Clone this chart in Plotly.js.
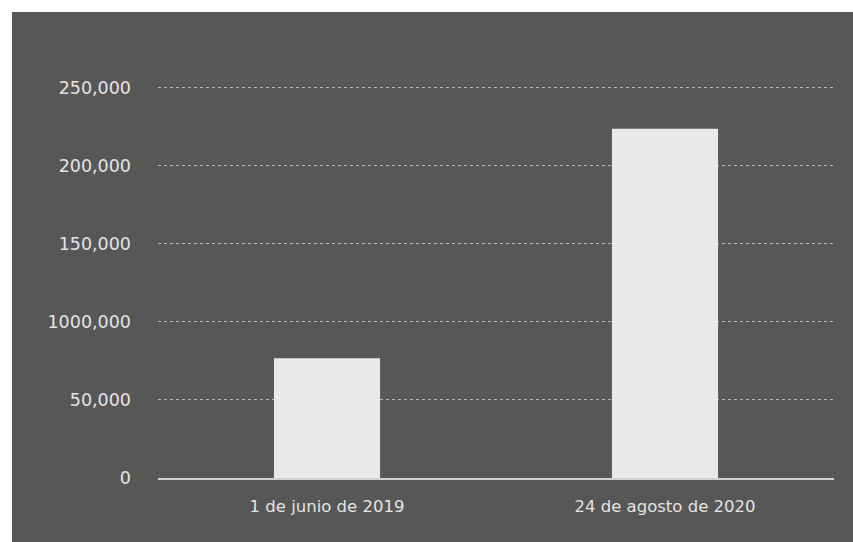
<!DOCTYPE html>
<html>
<head>
<meta charset="utf-8">
<script src="https://cdn.plot.ly/plotly-3.0.1.min.js"></script>
<style>
html,body{margin:0;padding:0;background:#ffffff;width:853px;height:542px;overflow:hidden;}
#chart{position:absolute;left:12px;top:12px;width:841px;height:530px;}
</style>
</head>
<body>
<div id="chart"></div>
<script>
const categories = ["1 de junio de 2019", "24 de agosto de 2020"];
const values = [76700, 223800];
const tickVals = [0, 50000, 100000, 150000, 200000, 250000];
const tickText = ["0", "50,000", "1000,000", "150,000", "200,000", "250,000"];

const trace = {
  type: "bar",
  x: categories,
  y: values,
  marker: {color: "#e9e9e9", line: {width: 0}},
  hoverinfo: "none"
};

const layout = {
  width: 841,
  height: 530,
  paper_bgcolor: "#575757",
  plot_bgcolor: "#575757",
  margin: {l: 146, r: 19, t: 68, b: 64},
  bargap: 0.686,
  showlegend: false,
  font: {family: "'DejaVu Sans', sans-serif", color: "#e4e4e4", size: 17},
  xaxis: {
    showgrid: false,
    showline: true,
    linecolor: "#cfcfcf",
    linewidth: 1.5,
    ticks: "",
    ticklabelstandoff: 13,
    tickfont: {size: 16.5, color: "#e4e4e4"}
  },
  yaxis: {
    range: [0, 255000],
    tickmode: "array",
    tickvals: tickVals,
    ticktext: tickText,
    showgrid: true,
    gridcolor: "#b5b5b5",
    griddash: "dot",
    gridwidth: 1,
    zeroline: false,
    showline: false,
    ticks: "",
    ticklabelstandoff: 26,
    tickfont: {size: 17.5, color: "#e4e4e4"}
  }
};

Plotly.newPlot("chart", [trace], layout, {staticPlot: true, displayModeBar: false});
</script>
</body>
</html>
